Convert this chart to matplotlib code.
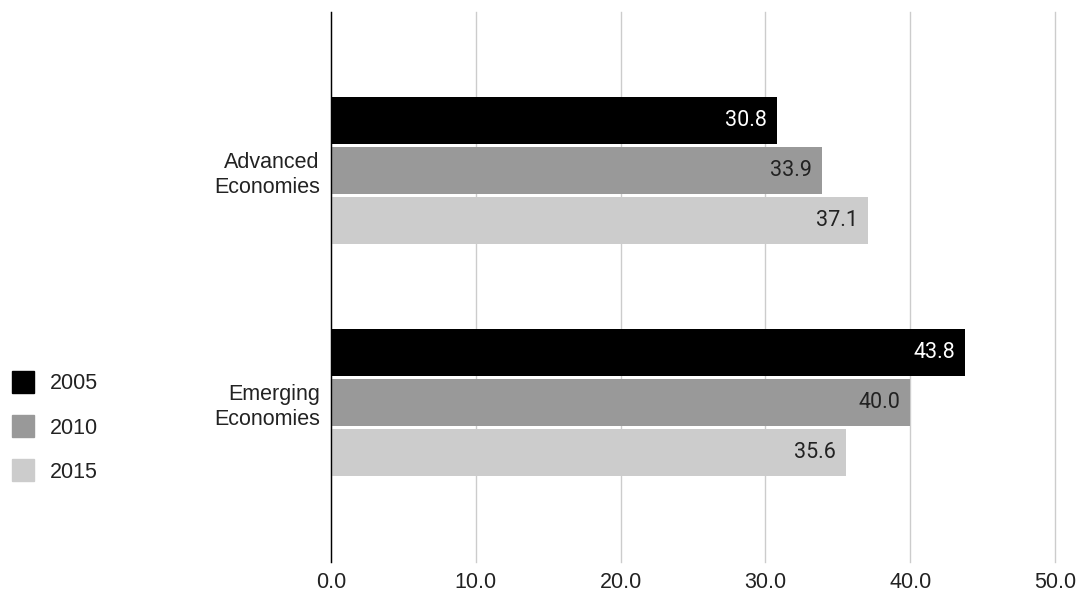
"""Grouped horizontal bars: advanced vs emerging economies, 2005/2010/2015."""

import matplotlib

matplotlib.use("Agg")
import matplotlib.pyplot as plt
import numpy as np
from matplotlib.lines import Line2D

CATEGORIES = ["Advanced\nEconomies", "Emerging\nEconomies"]
YEARS = ["2005", "2010", "2015"]
VALUES = {
    "2005": [30.8, 43.8],
    "2010": [33.9, 40.0],
    "2015": [37.1, 35.6],
}
COLORS = {"2005": "#000000", "2010": "#999999", "2015": "#cccccc"}
LABEL_COLORS = {"2005": "#ffffff", "2010": "#222222", "2015": "#222222"}
XTICKS = [0, 10, 20, 30, 40, 50]

AXIS_FONT = "Liberation Sans"
VALUE_FONT = "Roboto"


def main() -> None:
    fig = plt.figure(figsize=(10.79, 5.93), dpi=100)
    ax = fig.add_axes([331 / 1079, 31 / 593, (1055 - 331) / 1079, 550 / 593])

    height = 47 / 232
    pitch = 50 / 232
    y = np.arange(len(CATEGORIES))
    for i, year in enumerate(YEARS):
        pos = y + (i - 1) * pitch
        bars = ax.barh(pos, VALUES[year], height=height, color=COLORS[year], zorder=3)
        for bar, val in zip(bars, VALUES[year]):
            ax.text(
                val - 0.7,
                bar.get_y() + bar.get_height() / 2,
                f"{val:.1f}",
                ha="right",
                va="center",
                fontsize=15.5,
                family=VALUE_FONT,
                color=LABEL_COLORS[year],
                zorder=4,
            )

    ax.set_xlim(0, 50)
    ax.set_ylim(1 + 159.5 / 232, -158.5 / 232)
    ax.set_xticks(XTICKS)
    ax.set_xticklabels([f"{t:.1f}" for t in XTICKS], fontsize=15.5, family=AXIS_FONT, color="#222222")
    ax.set_yticks(y)
    ax.set_yticklabels(CATEGORIES, fontsize=15.5, family=AXIS_FONT, color="#222222", linespacing=1.25)
    ax.tick_params(axis="x", length=0, pad=7)
    ax.tick_params(axis="y", length=0, pad=8)
    ax.grid(axis="x", color="#cccccc", linewidth=1.0, zorder=0)
    for line in ax.get_xgridlines():
        line.set_clip_on(False)
    for name in ("top", "right", "bottom"):
        ax.spines[name].set_visible(False)
    ax.spines["left"].set_color("#000000")
    ax.spines["left"].set_linewidth(1.0)
    ax.spines["left"].set_zorder(5)

    handles = [
        Line2D([], [], marker="s", linestyle="none", markersize=16.5,
               markerfacecolor=COLORS[yr], markeredgecolor=COLORS[yr])
        for yr in YEARS
    ]
    fig.legend(
        handles,
        YEARS,
        loc="center left",
        bbox_to_anchor=(12 / 1079 - 0.0075, 1 - 428 / 593),
        frameon=False,
        prop={"family": AXIS_FONT, "size": 15.5},
        handlelength=1.0,
        handletextpad=0.75,
        labelspacing=1.08,
        borderaxespad=0.0,
        borderpad=0.4,
        labelcolor="#222222",
    )

    fig.savefig("out.png", dpi=100)
    plt.close(fig)


if __name__ == "__main__":
    main()
